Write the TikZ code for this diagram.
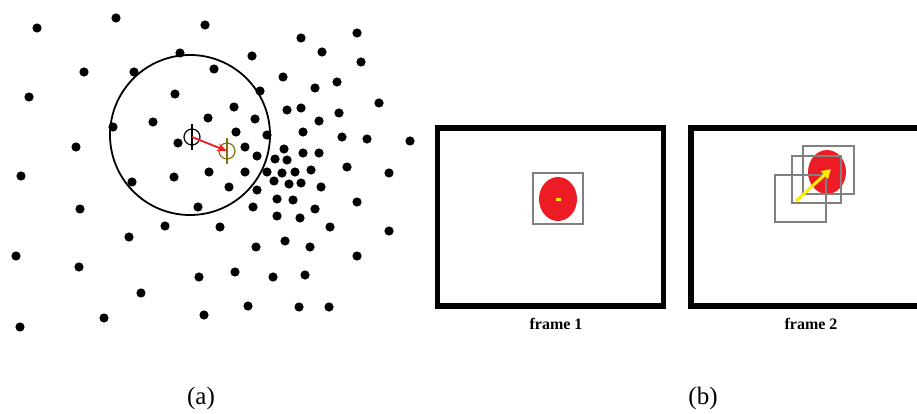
\documentclass[tikz,border=0pt]{standalone}
\usepackage{fontspec}
\setmainfont{Liberation Serif}
\usepackage{tikz}
\usetikzlibrary{arrows.meta}
\definecolor{blobred}{RGB}{237,28,36}
\definecolor{markyellow}{RGB}{255,236,0}
\definecolor{markolive}{RGB}{130,112,10}
\tikzset{
  dot/.style={fill=black},
  window/.style={draw=black, line width=1.8pt},
  oldmark/.style={draw=black, line width=1.2pt, circle, minimum size=16pt, inner sep=0pt},
  newmark/.style={draw=markolive, line width=1.2pt, circle, minimum size=16pt, inner sep=0pt},
  shiftarrow/.style={draw=blobred, line width=1.8pt, -{Stealth[length=10pt,width=8pt]}},
  frameborder/.style={draw=black, line width=5.5pt, line join=miter},
  searchbox/.style={draw=black!50, line width=2.5pt},
  blob/.style={fill=blobred},
  trackarrow/.style={draw=markyellow, line width=3pt, -{Triangle[length=9pt,width=10pt]}},
  framelabel/.style={font=\bfseries\fontsize{16}{18}\selectfont},
  sublabel/.style={font=\fontsize{25}{28}\selectfont},
}

\begin{document}
\begin{tikzpicture}[x=1pt,y=-1pt]
\useasboundingbox (0,0) rectangle (917,414);
% (a) mean shift on a point cloud
\fill[dot] (37,28) circle (4.6) (116,18) circle (4.6) (205,25) circle (4.6) (301,38) circle (4.6)
  (357,33) circle (4.6) (180,53) circle (4.6) (252,56) circle (4.6) (322,52) circle (4.6)
  (361,62) circle (4.6) (84,72) circle (4.6) (134,72) circle (4.6) (214,69) circle (4.6)
  (283,77) circle (4.6) (337,82) circle (4.6) (315,88) circle (4.6) (29,97) circle (4.6)
  (175,94) circle (4.6) (260,91) circle (4.6) (379,103) circle (4.6) (287,110) circle (4.6)
  (301,108) circle (4.6) (234,107) circle (4.6) (339,113) circle (4.6) (153,122) circle (4.6)
  (208,118) circle (4.6) (255,119) circle (4.6) (319,121) circle (4.6) (113,127) circle (4.6)
  (303,132) circle (4.6) (236,132) circle (4.6) (267,135) circle (4.6) (342,137) circle (4.6)
  (367,139) circle (4.6) (410,141) circle (4.6) (76,147) circle (4.6) (178,143) circle (4.6)
  (245,147) circle (4.6) (284,149) circle (4.6) (303,153) circle (4.6) (319,153) circle (4.6)
  (257,156) circle (4.6) (275,159) circle (4.6) (287,160) circle (4.6) (21,176) circle (4.6)
  (174,177) circle (4.6) (209,172) circle (4.6) (245,172) circle (4.6) (267,172) circle (4.6)
  (282,173) circle (4.6) (295,172) circle (4.6) (311,170) circle (4.6) (347,167) circle (4.6)
  (389,173) circle (4.6) (132,182) circle (4.6) (274,181) circle (4.6) (289,184) circle (4.6)
  (301,183) circle (4.6) (321,187) circle (4.6) (229,187) circle (4.6) (257,190) circle (4.6)
  (80,209) circle (4.6) (198,207) circle (4.6) (253,207) circle (4.6) (277,199) circle (4.6)
  (293,200) circle (4.6) (315,209) circle (4.6) (357,202) circle (4.6) (277,216) circle (4.6)
  (300,218) circle (4.6) (165,226) circle (4.6) (220,227) circle (4.6) (330,227) circle (4.6)
  (389,231) circle (4.6) (129,237) circle (4.6) (256,247) circle (4.6) (285,241) circle (4.6)
  (310,247) circle (4.6) (16,256) circle (4.6) (357,256) circle (4.6) (79,267) circle (4.6)
  (199,277) circle (4.6) (235,272) circle (4.6) (273,277) circle (4.6) (305,275) circle (4.6)
  (141,293) circle (4.6) (248,306) circle (4.6) (299,307) circle (4.6) (329,307) circle (4.6)
  (104,318) circle (4.6) (204,315) circle (4.6) (20,327) circle (4.6);
\draw[window] (190,135) circle (80);
\node[oldmark] (cold) at (192,137) {};
\draw[black, line width=1.2pt] (192,124) -- (192,150);
\node[newmark] (cnew) at (227,151) {};
\draw[markolive, line width=1.2pt] (227,138) -- (227,164);
\draw[shiftarrow] (cold.center) -- (cnew.center);
\node[sublabel] (suba) at (201,398) {(a)};
% (b) tracking the window from frame to frame
\draw[frameborder] (437.5,128) rectangle (663.5,306);
\draw[searchbox] (533,173) rectangle (583,224);
\fill[blob] (558,199) ellipse (19 and 22);
\fill[markyellow!90!orange] (555.5,197.5) rectangle (560.5,200.5);
\node[framelabel] (fone) at (556,324) {frame 1};
\draw[frameborder] (920,128) -- (691,128) -- (691,306) -- (920,306);
\fill[blob] (827,172) ellipse (19 and 22);
\draw[searchbox] (775,175) rectangle (826,222);
\draw[searchbox] (792,156) rectangle (841,203);
\draw[searchbox] (803,146) rectangle (854,194);
\coordinate (tstart) at (796,201);
\coordinate (tend) at (831,169);
\draw[trackarrow] (tstart) -- (tend);
\node[framelabel] (ftwo) at (811,324) {frame 2};
\node[sublabel] (subb) at (703,398) {(b)};
\end{tikzpicture}
\end{document}
